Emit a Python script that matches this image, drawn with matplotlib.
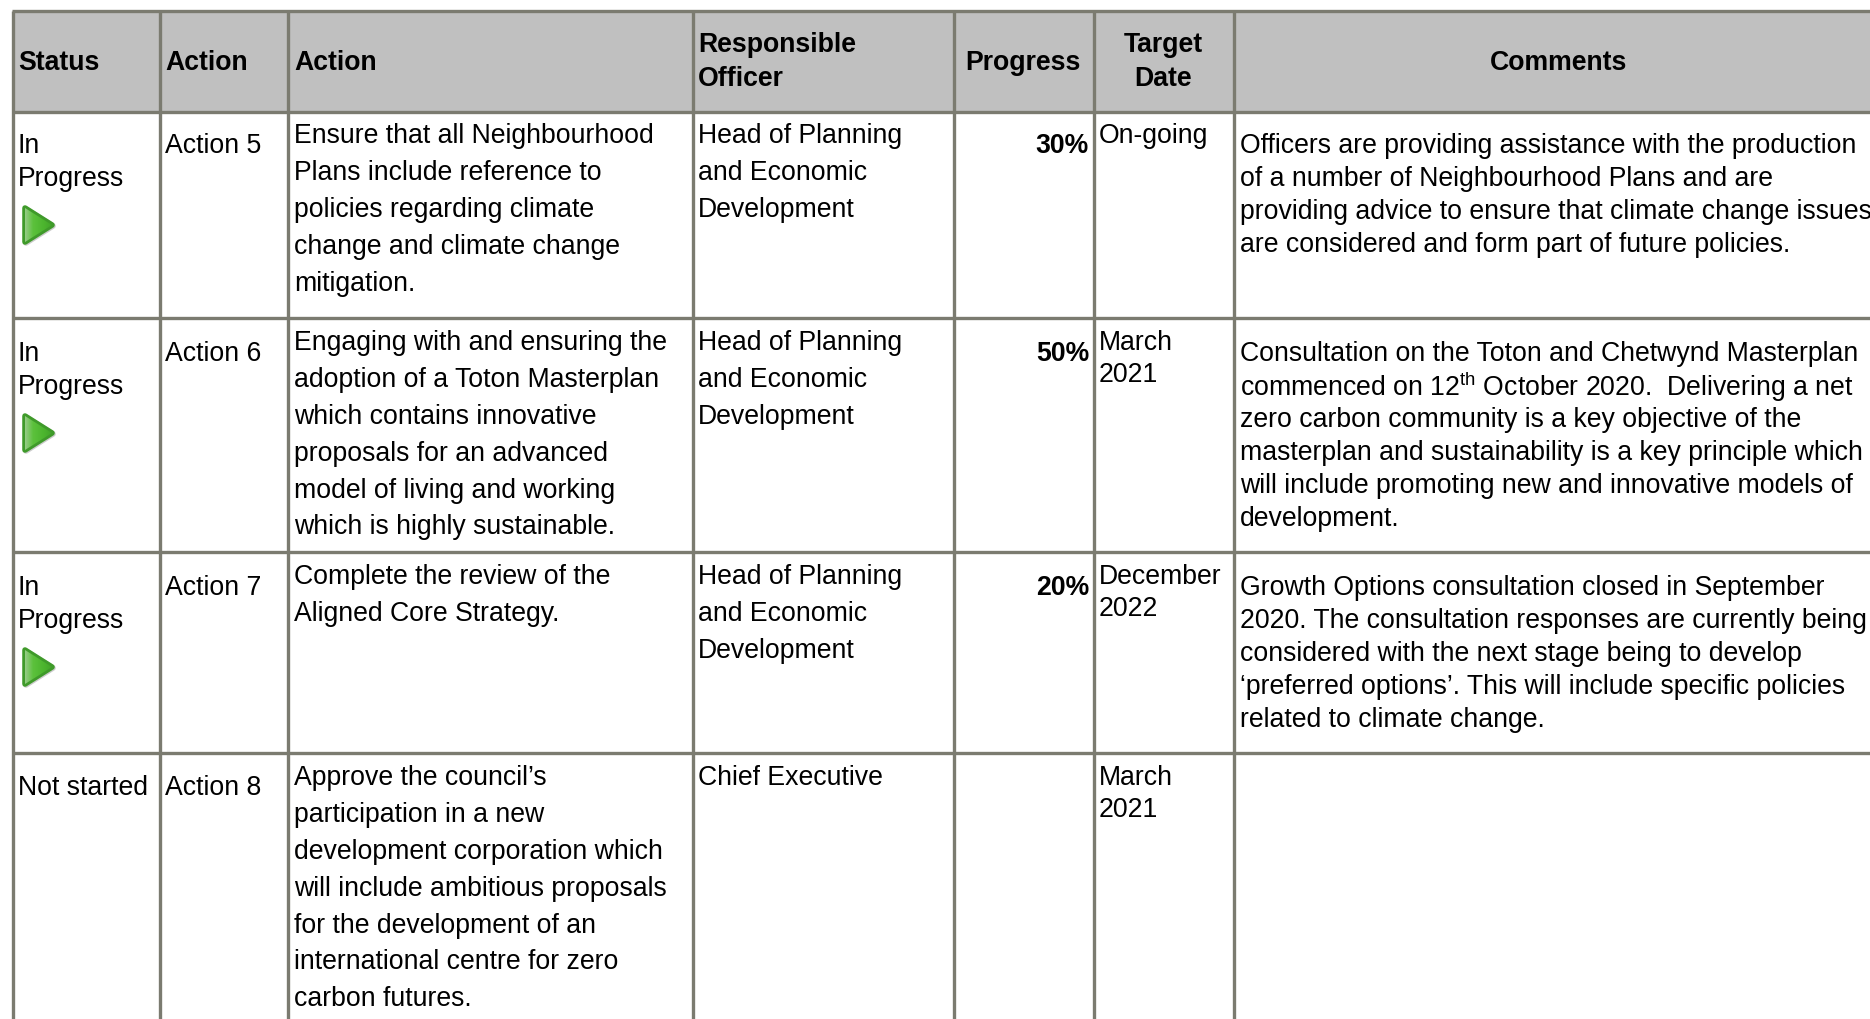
import matplotlib
matplotlib.use("Agg")
import matplotlib.pyplot as plt
import matplotlib.patches as patches
import matplotlib.transforms as mtrans
from matplotlib.colors import LinearSegmentedColormap
import numpy as np

plt.rcParams["font.family"] = ["Liberation Sans", "DejaVu Sans"]
plt.rcParams["mathtext.fontset"] = "custom"
plt.rcParams["mathtext.rm"] = "Liberation Sans"

W, H = 1870, 1020
LINE_COL = "#7b7b70"
HEAD_BG = "#c0c0c0"
FS = 19.15
FS_C = 19.2

col_x = [13, 160, 288, 693, 954, 1094, 1234, 1885]
row_y = [12, 113, 319, 553, 754, 1040]

headers = ["Status", "Action", "Action", "Responsible\nOfficer", "Progress", "Target\nDate", "Comments"]
status = [["In", "Progress"], ["In", "Progress"], ["In", "Progress"], ["Not started"]]
has_arrow = [True, True, True, False]
action_ids = ["Action 5", "Action 6", "Action 7", "Action 8"]
actions = [
    ["Ensure that all Neighbourhood", "Plans include reference to", "policies regarding climate",
     "change and climate change", "mitigation."],
    ["Engaging with and ensuring the", "adoption of a Toton Masterplan", "which contains innovative",
     "proposals for an advanced", "model of living and working", "which is highly sustainable."],
    ["Complete the review of the", "Aligned Core Strategy."],
    ["Approve the council\u2019s", "participation in a new", "development corporation which",
     "will include ambitious proposals", "for the development of an",
     "international centre for zero", "carbon futures."],
]
officers = [
    ["Head of Planning", "and Economic", "Development"],
    ["Head of Planning", "and Economic", "Development"],
    ["Head of Planning", "and Economic", "Development"],
    ["Chief Executive"],
]
progress = ["30%", "50%", "20%", ""]
target = [["On-going"], ["March", "2021"], ["December", "2022"], ["March", "2021"]]
comments = [
    ["Officers are providing assistance with the production", "of a number of Neighbourhood Plans and are",
     "providing advice to ensure that climate change issues", "are considered and form part of future policies."],
    ["Consultation on the Toton and Chetwynd Masterplan", r"commenced on 12$^{\mathrm{th}}$ October 2020.  Delivering a net",
     "zero carbon community is a key objective of the", "masterplan and sustainability is a key principle which",
     "will include promoting new and innovative models of", "development."],
    ["Growth Options consultation closed in September", "2020. The consultation responses are currently being",
     "considered with the next stage being to develop", "\u2018preferred options\u2019. This will include specific policies",
     "related to climate change."],
    [],
]


def draw_lines(ax, x, y0, lines, step, fs=FS, **kw):
    for i, s in enumerate(lines):
        ax.text(x, y0 + i * step, s, fontsize=fs, va="center", color="black", **kw)


def draw_arrow(ax, x, y):
    pts = [(x + 3, y + 3), (x + 30, y + 20), (x + 3, y + 37)]
    shift = ax.transData + mtrans.Affine2D().translate(1, -1)
    ax.add_patch(patches.Polygon(pts, closed=True, fc="#555555", ec="#555555", lw=4, joinstyle="round",
                                 alpha=0.3, transform=shift))
    ax.add_patch(patches.Polygon(pts, closed=True, fc="#4fae32", ec="#3f9a2a", lw=4, joinstyle="round"))
    cmap = LinearSegmentedColormap.from_list("g", ["#a9cfa0", "#5cc13c", "#4cb52e", "#3f9f28"])
    grad = np.linspace(0, 1, 40).reshape(1, -1)
    im = ax.imshow(grad, extent=(x, x + 33, y + 40, y), cmap=cmap, aspect="auto", zorder=3)
    im.set_clip_path(patches.Polygon(pts, closed=True, transform=ax.transData))


def main():
    fig = plt.figure(figsize=(W / 100, H / 100), dpi=100)
    ax = fig.add_axes([0, 0, 1, 1])
    ax.set_axis_off()

    ax.add_patch(patches.Rectangle((col_x[0], row_y[0]), W, row_y[1] - row_y[0], fc=HEAD_BG, ec="none"))
    for x in col_x[:-1]:
        ax.plot([x, x], [row_y[0], H], color=LINE_COL, lw=2.4, solid_capstyle="butt", zorder=2)
    for y in row_y[:-1]:
        ax.plot([col_x[0] - 1, W], [y, y], color=LINE_COL, lw=2.4, solid_capstyle="butt", zorder=2)

    # header
    hy = 62.5
    ax.text(18, hy, headers[0], fontsize=FS, fontweight="bold", va="center")
    ax.text(165, hy, headers[1], fontsize=FS, fontweight="bold", va="center")
    ax.text(294, hy, headers[2], fontsize=FS, fontweight="bold", va="center")
    draw_lines(ax, 698, 45.5, headers[3].split("\n"), 33, fontweight="bold")
    ax.text(1023, hy, headers[4], fontsize=FS, fontweight="bold", va="center", ha="center")
    for i, s in enumerate(headers[5].split("\n")):
        ax.text(1163, 45.5 + i * 33, s, fontsize=FS, fontweight="bold", va="center", ha="center")
    ax.text(1559, hy, headers[6], fontsize=FS, fontweight="bold", va="center", ha="center")

    text_y = [136, 343, 577, 778]
    status_y = [146, 354, 588, 788]
    comment_y = [146, 354, 588]
    for r in range(4):
        draw_lines(ax, 18, status_y[r], status[r], 33.5)
        if has_arrow[r]:
            draw_arrow(ax, 22, status_y[r] + 60)
        ax.text(165, status_y[r], action_ids[r], fontsize=FS, va="center")
        draw_lines(ax, 294, text_y[r], actions[r], 36.9)
        draw_lines(ax, 698, text_y[r], officers[r], 36.9)
        if progress[r]:
            ax.text(1089, status_y[r], progress[r], fontsize=FS, fontweight="bold", va="center", ha="right")
        draw_lines(ax, 1099, text_y[r], target[r], 32.5)
        if comments[r]:
            draw_lines(ax, 1240, comment_y[r], comments[r], 33.0, fs=FS_C)

    ax.set_xlim(0, W)
    ax.set_ylim(H, 0)
    fig.savefig("out.png", dpi=100, facecolor="white")


if __name__ == "__main__":
    main()
